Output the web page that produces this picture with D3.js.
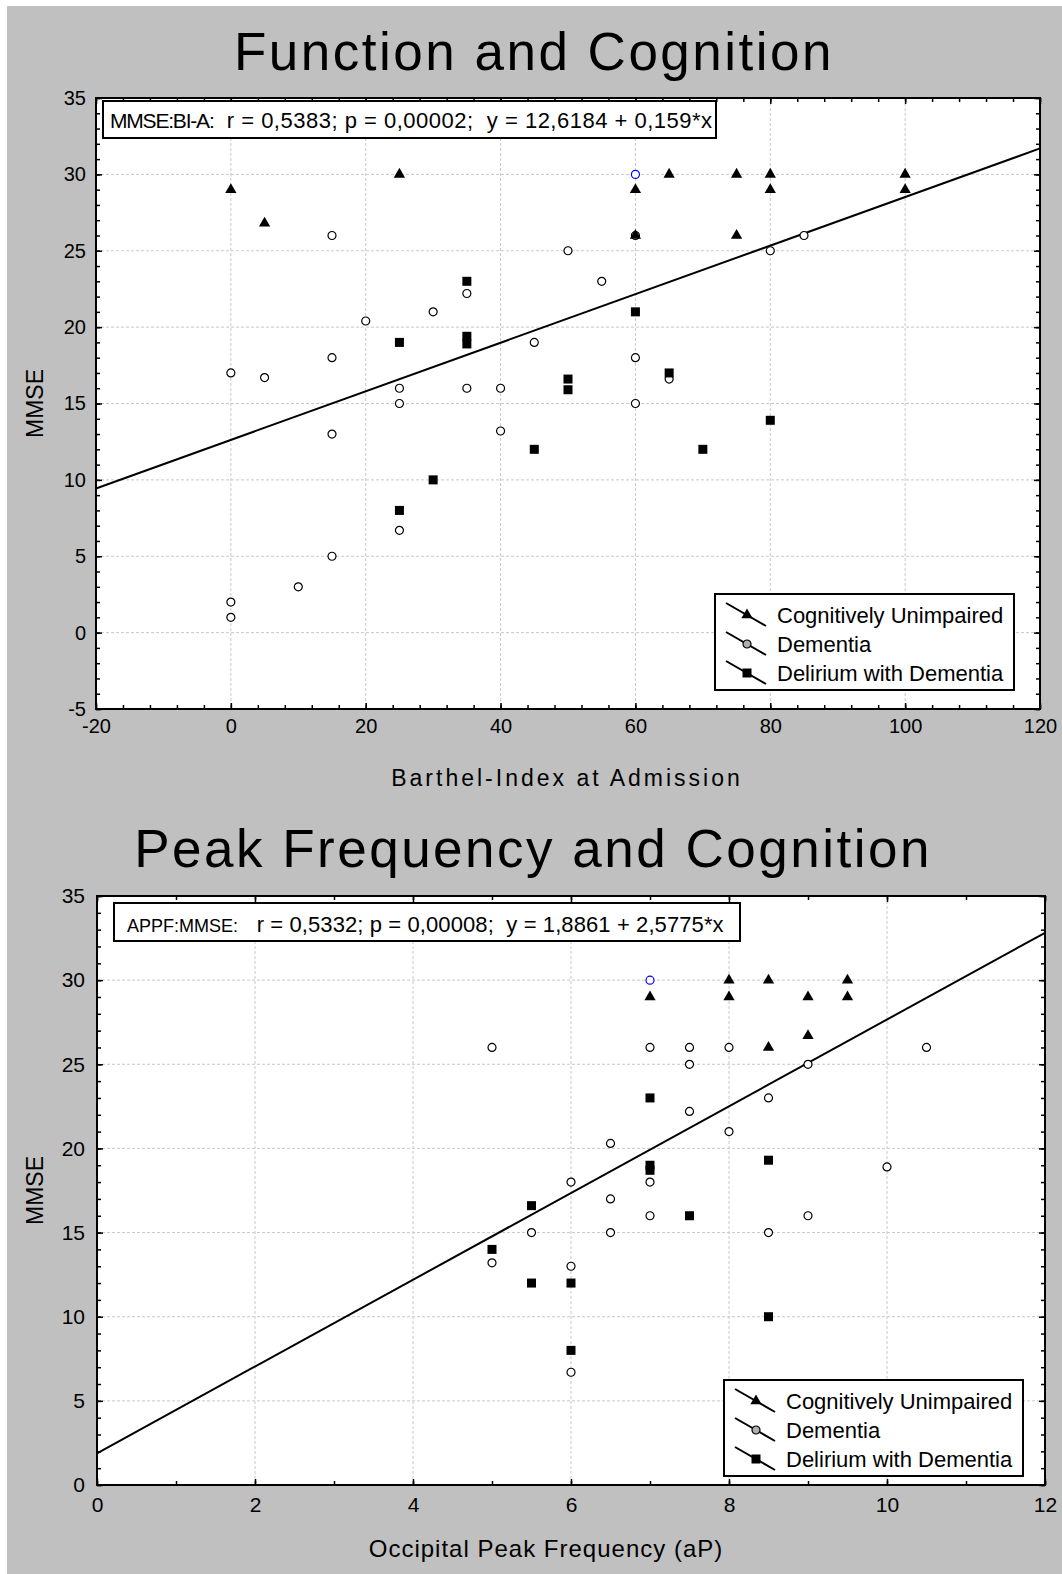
<!DOCTYPE html>
<html>
<head>
<meta charset="utf-8">
<script src="https://cdn.jsdelivr.net/npm/d3@7"></script>
<style>
  body { margin: 0; background: #fff; }
  svg { display: block; font-family: "Liberation Sans", Arial, sans-serif; }
</style>
</head>
<body>
<svg id="chart" width="1062" height="1574"></svg>
<script>
// ---- panel 1: Barthel-Index at Admission vs MMSE ----
var biUnimpaired = [[0,29],[5,26.8],[25,30],[60,29],[60,26],[65,30],[75,30],[75,26],[80,30],[80,29],[100,30],[100,29]];
var biDementia = [[0,17],[0,2],[0,1],[5,16.7],[10,3],[15,26],[15,18],[15,13],[15,5],[20,20.4],[25,16],[25,15],[25,6.7],
                  [30,21],[35,22.2],[35,16],[40,16],[40,13.2],[45,19],[50,25],[55,23],[60,26],[60,18],[60,15],[65,16.6],[80,25],[85,26]];
var biDelirium = [[25,19],[25,8],[30,10],[35,23],[35,19.4],[35,18.9],[45,12],[50,16.6],[50,15.9],[60,21],[65,17],[70,12],[80,13.9]];
var biHighlight = [[60,30]];
var biFit = [12.6184, 0.159];
var biXTicks = [-20, 0, 20, 40, 60, 80, 100, 120];
var biYTicks = [-5, 0, 5, 10, 15, 20, 25, 30, 35];

// ---- panel 2: Occipital Peak Frequency vs MMSE ----
var pfUnimpaired = [[7,29],[8,30],[8,29],[8.5,30],[8.5,26],[9,29],[9,26.7],[9.5,30],[9.5,29]];
var pfDementia = [[5,26],[5,13.2],[5.5,15],[6,18],[6,13],[6,6.7],[6.5,20.3],[6.5,17],[6.5,15],[7,26],[7,18],[7,16],
                  [7.5,26],[7.5,25],[7.5,22.2],[8,26],[8,21],[8.5,23],[8.5,15],[9,25],[9,16],[10,18.9],[10.5,26]];
var pfDelirium = [[5,14],[5.5,16.6],[5.5,12],[6,12],[6,8],[7,23],[7,19],[7,18.7],[7.5,16],[8.5,19.3],[8.5,10]];
var pfHighlight = [[7,30]];
var pfFit = [1.8861, 2.5775];
var pfXTicks = [0, 2, 4, 6, 8, 10, 12];
var pfYTicks = [0, 5, 10, 15, 20, 25, 30, 35];

var groupNames = ["Cognitively Unimpaired", "Dementia", "Delirium with Dementia"];

var svg = d3.select("#chart");
svg.append("rect").attr("x", 7).attr("y", 6).attr("width", 1062).attr("height", 1574).attr("fill", "#c0c0c0");

function marker(sel, kind, fill) {
  if (kind === "tri") {
    sel.append("path").attr("d", d3.symbol().type(d3.symbolTriangle).size(55)).attr("fill", "#000");
  } else if (kind === "sq") {
    sel.append("rect").attr("x", -4.5).attr("y", -4.5).attr("width", 9).attr("height", 9).attr("fill", "#000");
  } else {
    sel.append("circle").attr("r", 4).attr("fill", fill || "#fff").attr("stroke", "#000").attr("stroke-width", 1.2);
  }
}

function drawPanel(cfg) {
  var x = d3.scaleLinear().domain(cfg.xDomain).range([cfg.left, cfg.right]);
  var y = d3.scaleLinear().domain(cfg.yDomain).range([cfg.bottom, cfg.top]);
  var w = cfg.right - cfg.left, h = cfg.bottom - cfg.top;
  var g = svg.append("g");

  g.append("text").attr("x", cfg.titleX).attr("y", cfg.titleY).attr("text-anchor", "middle")
    .attr("font-size", 53).attr("letter-spacing", 2.5).text(cfg.title);

  g.append("rect").attr("x", cfg.left).attr("y", cfg.top).attr("width", w).attr("height", h).attr("fill", "#fff");

  // grid
  var grid = g.append("g").attr("stroke", "#c8c8c8").attr("stroke-dasharray", "3,2").attr("stroke-width", 1);
  grid.selectAll(".gx").data(cfg.xTicks.slice(1, -1)).enter().append("line")
    .attr("x1", d => x(d)).attr("x2", d => x(d)).attr("y1", cfg.top).attr("y2", cfg.bottom);
  grid.selectAll(".gy").data(cfg.yTicks.slice(1, -1)).enter().append("line")
    .attr("y1", d => y(d)).attr("y2", d => y(d)).attr("x1", cfg.left).attr("x2", cfg.right);

  var xMinor = d3.range(cfg.xDomain[0], cfg.xDomain[1] + 1e-9, cfg.xMinor);
  var yMinor = d3.range(cfg.yDomain[0], cfg.yDomain[1] + 1e-9, cfg.yMinor);

  function axes(axisFn, scale, pos, ticks, minor, labels) {
    var a = g.append("g").attr("transform", pos);
    a.call(axisFn(scale).tickValues(minor).tickSize(-4).tickSizeOuter(0).tickFormat(""));
    var b = g.append("g").attr("transform", pos);
    b.call(axisFn(scale).tickValues(ticks).tickSize(-6).tickSizeOuter(0).tickPadding(cfg.pad)
      .tickFormat(labels ? (d => String(d)) : ""));
    [a, b].forEach(s => {
      s.select(".domain").remove();
      s.selectAll("line").attr("stroke", "#000").attr("stroke-width", 1.5);
      s.selectAll("text").attr("font-size", cfg.tickFont).attr("fill", "#000").attr("font-family", null);
    });
    return b;
  }
  axes(d3.axisBottom, x, "translate(0," + cfg.bottom + ")", cfg.xTicks, xMinor, true);
  axes(d3.axisTop, x, "translate(0," + cfg.top + ")", cfg.xTicks, xMinor, false);
  axes(d3.axisLeft, y, "translate(" + cfg.left + ",0)", cfg.yTicks, yMinor, true);
  axes(d3.axisRight, y, "translate(" + cfg.right + ",0)", cfg.yTicks, yMinor, false);

  // regression line
  g.append("line")
    .attr("x1", x(cfg.xDomain[0])).attr("y1", y(cfg.fit[0] + cfg.fit[1] * cfg.xDomain[0]))
    .attr("x2", x(cfg.xDomain[1])).attr("y2", y(cfg.fit[0] + cfg.fit[1] * cfg.xDomain[1]))
    .attr("stroke", "#000").attr("stroke-width", 2);

  var series = [[cfg.dementia, "circ"], [cfg.delirium, "sq"], [cfg.unimpaired, "tri"]];
  series.forEach(function (s) {
    g.append("g").selectAll("g").data(s[0]).enter().append("g")
      .attr("transform", d => "translate(" + x(d[0]) + "," + y(d[1]) + ")")
      .each(function () { marker(d3.select(this), s[1]); });
  });
  g.append("g").selectAll("circle").data(cfg.highlight).enter().append("circle")
    .attr("cx", d => x(d[0])).attr("cy", d => y(d[1])).attr("r", 4)
    .attr("fill", "#fff").attr("stroke", "#0000ff").attr("stroke-width", 1.2);

  // frame
  g.append("rect").attr("x", cfg.left).attr("y", cfg.top).attr("width", w).attr("height", h)
    .attr("fill", "none").attr("stroke", "#000").attr("stroke-width", 2);

  // axis titles
  g.append("text").attr("x", cfg.xLabelX).attr("y", cfg.xLabelY).attr("text-anchor", "middle")
    .attr("font-size", cfg.xLabelFont).attr("letter-spacing", cfg.xLabelSpacing).text(cfg.xLabel);
  g.append("text").attr("transform", "translate(" + 43 + "," + (cfg.top + h / 2) + ") rotate(-90)")
    .attr("text-anchor", "middle").attr("font-size", 23).text("MMSE");

  // stats box
  var sb = cfg.stats;
  g.append("rect").attr("x", sb.x).attr("y", sb.y).attr("width", sb.w).attr("height", sb.h)
    .attr("fill", "#fff").attr("stroke", "#000").attr("stroke-width", 2);
  var st = g.append("text").attr("x", sb.tx).attr("y", sb.ty).attr("font-size", sb.font).attr("xml:space", "preserve");
  st.append("tspan").attr("font-size", sb.headFont).attr("letter-spacing", sb.headSpacing).text(sb.head);
  st.append("tspan").attr("letter-spacing", sb.spacing).text(sb.body);

  // legend
  var lg = cfg.legend;
  g.append("rect").attr("x", lg.x).attr("y", lg.y).attr("width", lg.w).attr("height", lg.h)
    .attr("fill", "#fff").attr("stroke", "#000").attr("stroke-width", 2);
  var kinds = ["tri", "circ", "sq"];
  groupNames.forEach(function (name, i) {
    var cy = lg.y + 21 + i * 29;
    var row = g.append("g").attr("transform", "translate(" + (lg.x + 11) + "," + cy + ")");
    row.append("line").attr("x1", 0).attr("y1", -12).attr("x2", 40).attr("y2", 11)
      .attr("stroke", "#000").attr("stroke-width", 2);
    var m = row.append("g").attr("transform", "translate(21,0)");
    marker(m, kinds[i], "#b0b0b0");
    row.append("text").attr("x", 51).attr("y", 8).attr("font-size", 22).attr("letter-spacing", 0).text(name);
  });
}

drawPanel({
  title: "Function and Cognition", titleX: 534, titleY: 70,
  left: 96, right: 1040, top: 98, bottom: 709,
  xDomain: [-20, 120], yDomain: [-5, 35], xTicks: biXTicks, yTicks: biYTicks, xMinor: 4, yMinor: 1,
  tickFont: 20, pad: 10,
  unimpaired: biUnimpaired, dementia: biDementia, delirium: biDelirium, highlight: biHighlight, fit: biFit,
  xLabel: "Barthel-Index at Admission", xLabelX: 567, xLabelY: 786, xLabelFont: 23, xLabelSpacing: 3,
  stats: { x: 103, y: 101, w: 613, h: 37, tx: 110, ty: 128, font: 22, headFont: 21, headSpacing: -1.2, spacing: 0.5,
           head: "MMSE:BI-A:", body: "  r = 0,5383; p = 0,00002;  y = 12,6184 + 0,159*x" },
  legend: { x: 715, y: 594, w: 299, h: 96 }
});

drawPanel({
  title: "Peak Frequency and Cognition", titleX: 533, titleY: 867,
  left: 97, right: 1045, top: 896, bottom: 1485,
  xDomain: [0, 12], yDomain: [0, 35], xTicks: pfXTicks, yTicks: pfYTicks, xMinor: 1, yMinor: 1,
  tickFont: 21, pad: 12,
  unimpaired: pfUnimpaired, dementia: pfDementia, delirium: pfDelirium, highlight: pfHighlight, fit: pfFit,
  xLabel: "Occipital Peak Frequency (aP)", xLabelX: 546, xLabelY: 1557, xLabelFont: 24, xLabelSpacing: 1,
  stats: { x: 114, y: 903, w: 626, h: 38, tx: 127, ty: 932, font: 22, headFont: 18, headSpacing: 0, spacing: 0.1,
           head: "APPF:MMSE:", body: "   r = 0,5332; p = 0,00008;  y = 1,8861 + 2,5775*x" },
  legend: { x: 724, y: 1380, w: 299, h: 96 }
});
</script>
</body>
</html>
